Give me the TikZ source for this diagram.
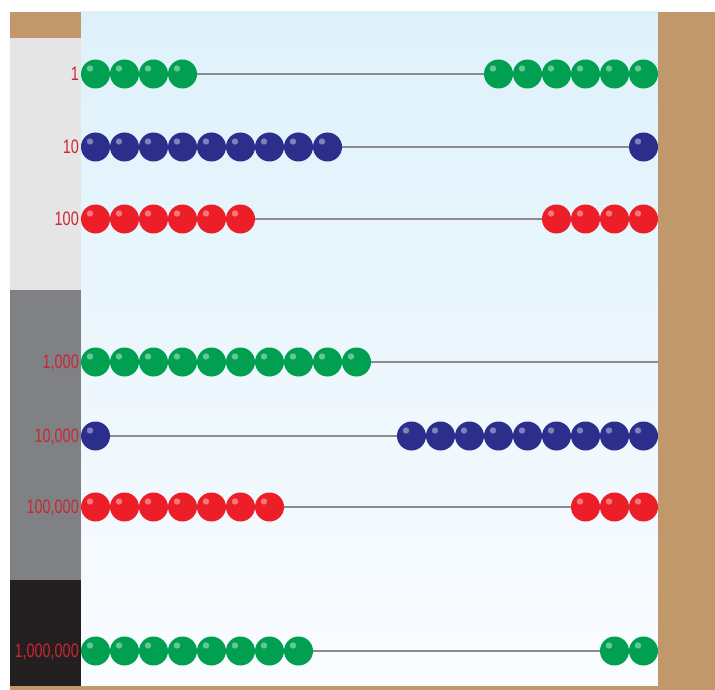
\documentclass[tikz,border=0pt]{standalone}
\usepackage{fontspec}
\setmainfont{Liberation Sans}
\definecolor{brownbar}{RGB}{193,151,108}
\definecolor{beadgreen}{RGB}{0,160,80}
\definecolor{beadblue}{RGB}{44,46,140}
\definecolor{beadred}{RGB}{236,30,40}
\definecolor{labelred}{RGB}{200,40,50}
\definecolor{panellight}{RGB}{229,229,229}
\definecolor{panelmid}{RGB}{128,129,132}
\definecolor{paneldark}{RGB}{35,31,32}
\definecolor{skytop}{RGB}{222,241,251}
\definecolor{skybottom}{RGB}{250,252,255}
\definecolor{rodgray}{RGB}{140,140,140}
\begin{document}
\begin{tikzpicture}[x=1pt,y=-1pt,
  bead/.style={circle, minimum size=29pt, inner sep=0pt, fill=#1,
    path picture={\fill[white,opacity=0.4]
      ([xshift=-5.5pt,yshift=5.5pt]path picture bounding box.center) circle[radius=3.2pt];}},
  rod/.style={draw=rodgray, line width=1.4pt},
  lab/.style={anchor=east, text=labelred, inner sep=0pt, text height=13.9pt, text depth=0pt,
    font=\fontsize{19.5}{19.5}\selectfont}
]
\useasboundingbox (0,0) rectangle (715,690);
\fill[white] (0,0) rectangle (715,690);
% main area
\shade[top color=skytop, bottom color=skybottom] (81,12) rectangle (658,686);
% left column
\fill[brownbar] (10,12) rectangle (81,38);
\fill[panellight] (10,38) rectangle (81,290);
\fill[panelmid] (10,290) rectangle (81,580);
\fill[paneldark] (10,580) rectangle (81,686);
% right frame and bottom edge
\fill[brownbar] (658,12) rectangle (715,690);
\fill[brownbar] (10,686) rectangle (715,690);
% rows
\foreach \y/\lab/\col/\nl/\nr [count=\r] in {
   74/{1}/beadgreen/4/6,
  147/{10}/beadblue/9/1,
  219/{100}/beadred/6/4,
  362/{1,000}/beadgreen/10/0,
  436/{10,000}/beadblue/1/9,
  507/{100,000}/beadred/7/3,
  651/{1,000,000}/beadgreen/8/2}{
  \coordinate (rodL\r) at (81,\y);
  \coordinate (rodR\r) at (658,\y);
  \draw[rod] (rodL\r) -- (rodR\r);
  \node[lab] (lab\r) at (79,\y) {\scalebox{0.74}[1]{\lab}};
  \ifnum\nl>0
    \foreach \i in {1,...,\nl}{
      \node[bead=\col] (b\r-L\i) at ({95.5+29*(\i-1)},\y) {};
    }
  \fi
  \ifnum\nr>0
    \foreach \i in {1,...,\nr}{
      \node[bead=\col] (b\r-R\i) at ({643.5-29*(\i-1)},\y) {};
    }
  \fi
}
\end{tikzpicture}
\end{document}
